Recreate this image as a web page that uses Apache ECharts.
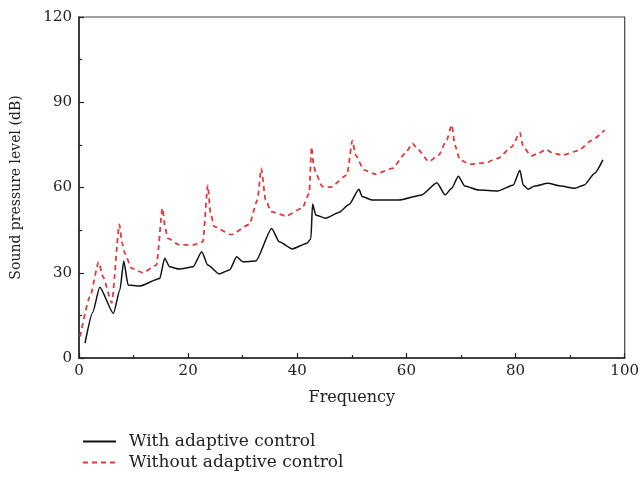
<!DOCTYPE html>
<html>
<head>
<meta charset="utf-8">
<script src="https://cdn.jsdelivr.net/npm/echarts@6/dist/echarts.min.js"></script>
<style>
  html, body { margin: 0; padding: 0; background: #fff; }
  #chart { width: 642px; height: 477px; }
</style>
</head>
<body>
<div id="chart"></div>
<script>
// frequency / level pairs
const freqWith = [
  1.1, 2.5, 3.8, 6.3, 7.5, 8.2, 9.0, 11.1, 14.8, 15.7,
  16.6, 18.4, 20.9, 22.5, 23.6, 25.7, 27.6, 28.9, 30.0, 32.4,
  35.3, 36.7, 39.1, 41.8, 42.5, 42.8, 43.4, 45.2, 47.6, 49.5,
  51.3, 51.9, 53.7, 58.6, 62.8, 65.6, 67.1, 68.3, 69.5, 70.7,
  73.2, 76.8, 79.6, 80.8, 81.4, 82.3, 83.5, 85.9, 88.4, 90.8,
  92.6, 94.5, 96.0
];
const splWith = [
  5.2, 16.0, 24.9, 15.7, 24.0, 34.1, 25.7, 25.3, 28.0, 35.1,
  32.1, 31.3, 32.1, 37.4, 32.7, 29.6, 31.0, 35.6, 33.9, 34.1,
  45.6, 40.9, 38.4, 40.4, 42.0, 54.2, 50.3, 49.2, 51.2, 54.0,
  59.4, 56.8, 55.6, 55.6, 57.4, 61.7, 57.4, 59.7, 64.0, 60.5,
  59.1, 58.8, 60.9, 66.1, 60.9, 59.4, 60.5, 61.5, 60.5, 59.7,
  60.9, 65.0, 69.7
];

const freqWithout = [
  0.2, 2.0, 3.6, 4.4, 6.0, 7.4, 7.9, 8.4, 9.6, 11.7,
  14.2, 15.3, 15.8, 16.3, 18.4, 20.9, 22.7, 23.6, 24.1, 24.8,
  27.9, 31.2, 32.7, 33.4, 34.2, 35.2, 37.9, 40.9, 42.2, 42.6,
  43.0, 43.4, 44.6, 46.1, 49.1, 50.1, 50.7, 52.2, 54.3, 57.4,
  59.8, 61.1, 62.2, 64.1, 65.9, 67.4, 68.3, 68.9, 69.8, 71.7,
  74.4, 76.8, 79.3, 80.8, 81.4, 82.9, 84.1, 85.6, 86.9, 88.7,
  91.5, 93.9, 96.3
];
const splWithout = [
  7.5, 21.5, 33.7, 28.6, 19.4, 47.0, 40.5, 36.8, 31.6, 30.0,
  32.7, 52.7, 45.5, 42.1, 39.8, 39.8, 40.9, 60.8, 51.0, 46.2,
  43.4, 47.0, 55.6, 66.7, 55.6, 51.5, 50.0, 52.7, 58.0, 74.3,
  68.0, 65.0, 60.3, 60.1, 64.4, 76.5, 71.4, 66.2, 64.7, 66.7,
  72.0, 75.5, 73.2, 69.1, 71.4, 76.7, 82.0, 74.9, 69.7, 68.2,
  68.7, 70.3, 74.3, 79.3, 74.3, 71.1, 72.0, 73.4, 72.0, 71.4,
  73.0, 76.5, 80.2
];

const seriesNames = ["With adaptive control", "Without adaptive control"];

const font = "DejaVu Serif";
const ink = "#222";

const chart = echarts.init(document.getElementById("chart"), null, { renderer: "canvas" });

const axisCommon = {
  axisLine: { show: true, lineStyle: { color: ink, width: 1.5 } },
  axisTick: { show: true, inside: true, length: 5, lineStyle: { color: ink, width: 1.2 } },
  minorTick: { show: true, splitNumber: 2, length: 3, lineStyle: { color: ink, width: 1.2 } },
  splitLine: { show: false },
  axisLabel: { color: ink, fontFamily: font, fontSize: 15 },
  nameTextStyle: { color: ink, fontFamily: font, fontSize: 16 }
};

chart.setOption({
  animation: false,
  backgroundColor: "#fff",
  grid: {
    left: 79, right: 15, top: 17, bottom: 119,
    show: true, borderColor: "#444", borderWidth: 1.2, backgroundColor: "transparent"
  },
  legend: {
    orient: "vertical",
    left: 82, top: 433, height: 60,
    padding: 0,
    itemWidth: 33, itemHeight: 10, itemGap: 4,
    itemStyle: { opacity: 0 },
    textStyle: { color: ink, fontFamily: font, fontSize: 17, padding: [0, 0, 0, 8] },
    data: seriesNames
  },
  xAxis: Object.assign({}, axisCommon, {
    type: "value", min: 0, max: 100, interval: 20,
    name: "Frequency", nameLocation: "middle", nameGap: 32,
    axisLabel: Object.assign({}, axisCommon.axisLabel, { margin: 6 })
  }),
  yAxis: Object.assign({}, axisCommon, {
    type: "value", min: 0, max: 120, interval: 30,
    name: "Sound pressure level (dB)", nameLocation: "middle", nameGap: 56,
    nameTextStyle: Object.assign({}, axisCommon.nameTextStyle, { fontSize: 14 }),
    axisLabel: Object.assign({}, axisCommon.axisLabel, { margin: 7 })
  }),
  series: [
    {
      name: seriesNames[0], type: "line", symbol: "none",
      smooth: 0.2, smoothMonotone: "x",
      lineStyle: { color: "#111", width: 1.5 },
      itemStyle: { color: "#111" },
      data: freqWith.map((f, i) => [f, splWith[i]])
    },
    {
      name: seriesNames[1], type: "line", symbol: "none",
      smooth: 0.2, smoothMonotone: "x",
      lineStyle: { color: "#e0393e", width: 1.8, type: [5, 4] },
      itemStyle: { color: "#e0393e" },
      data: freqWithout.map((f, i) => [f, splWithout[i]])
    }
  ]
});
</script>
</body>
</html>
